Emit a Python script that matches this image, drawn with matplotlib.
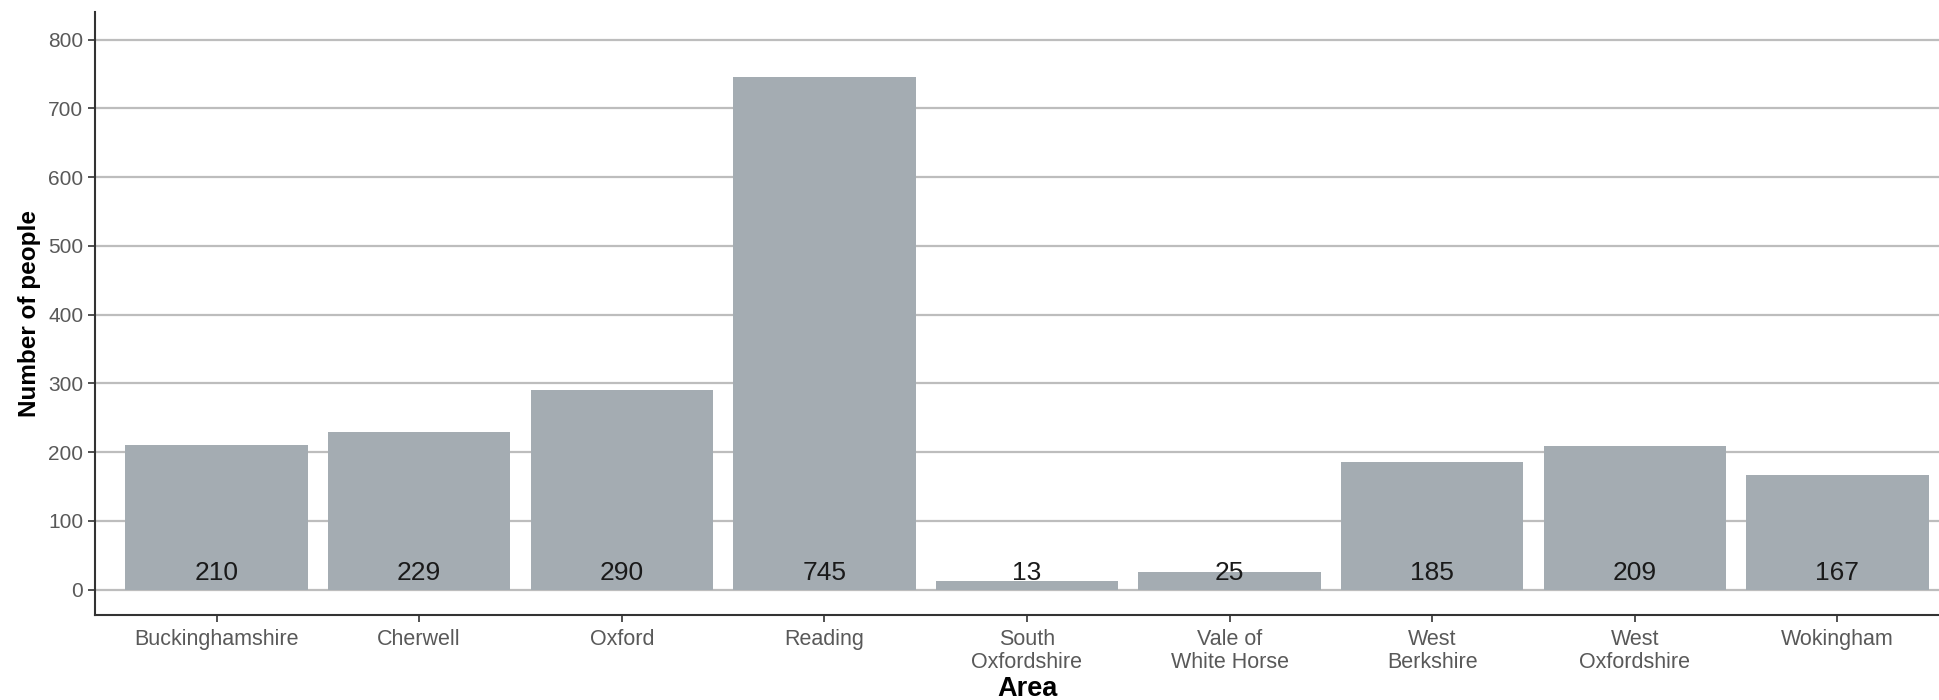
import matplotlib

matplotlib.use("Agg")
import matplotlib.pyplot as plt  # noqa: E402
import numpy as np  # noqa: E402

areas = [
    "Buckinghamshire",
    "Cherwell",
    "Oxford",
    "Reading",
    "South\nOxfordshire",
    "Vale of\nWhite Horse",
    "West\nBerkshire",
    "West\nOxfordshire",
    "Wokingham",
]
people = [210, 229, 290, 745, 13, 25, 185, 209, 167]
y_ticks = [0, 100, 200, 300, 400, 500, 600, 700, 800]

plt.rcParams["font.family"] = ["Liberation Sans", "DejaVu Sans"]

fig = plt.figure(figsize=(19.39, 7.0), dpi=100)
ax = fig.add_axes([95 / 1939, 85 / 700, (1959 - 95) / 1939, (615 - 12) / 700])

x = np.arange(len(areas))
ax.set_axisbelow(True)
ax.yaxis.grid(True, color="#bdbdbd", linewidth=1.6)
ax.bar(x, people, width=0.9, color="#a4acb2", zorder=2)

for xi, v in zip(x, people):
    ax.text(xi, 24, str(v), ha="center", va="center", fontsize=19, color="#1a1a1a", zorder=3)

ax.set_xlim(-0.6, len(areas) - 0.4)
ax.set_ylim(-37, 840)
ax.set_xticks(x)
ax.set_xticklabels(areas, fontsize=15.5, color="#595959", linespacing=1.12)
ax.set_yticks(y_ticks)
ax.set_yticklabels([str(t) for t in y_ticks], fontsize=15, color="#595959")
ax.tick_params(axis="both", length=5, width=1.2, color="#333333")
ax.tick_params(axis="x", pad=5)

for side in ["top", "right"]:
    ax.spines[side].set_visible(False)
for side in ["left", "bottom"]:
    ax.spines[side].set_color("#333333")
    ax.spines[side].set_linewidth(1.5)

ax.set_xlabel("Area", fontsize=19.5, fontweight="bold", labelpad=2)
ax.set_ylabel("Number of people", fontsize=17.5, fontweight="bold", labelpad=5)

fig.savefig("out.png", dpi=100)
plt.close(fig)
